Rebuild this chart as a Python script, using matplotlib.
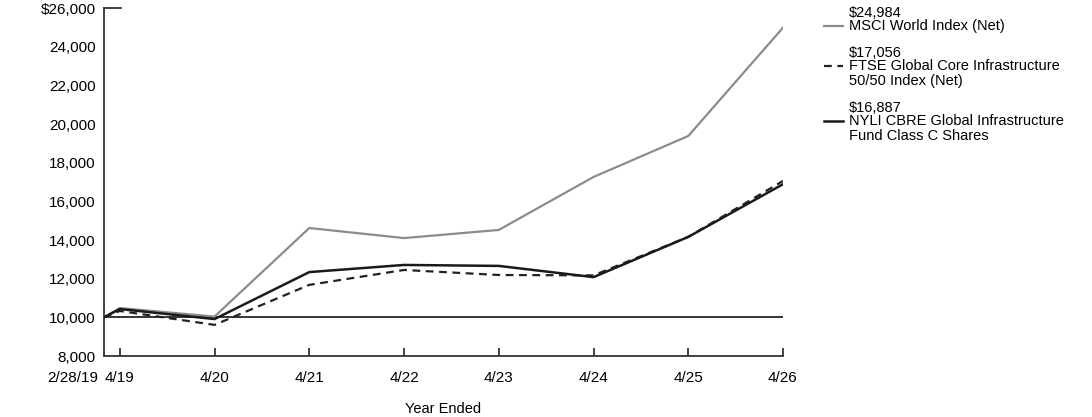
import matplotlib
matplotlib.use("Agg")
import matplotlib.pyplot as plt
import matplotlib.transforms as mtransforms

plt.rcParams['font.family'] = ['Liberation Sans', 'DejaVu Sans']

# Data (months since 2/28/19)
months = [0, 2, 14, 26, 38, 50, 62, 74, 86]
tick_labels = ['2/28/19', '4/19', '4/20', '4/21', '4/22', '4/23', '4/24', '4/25', '4/26']

msci = [10000, 10480, 10040, 14620, 14100, 14520, 17260, 19380, 24984]
ftse = [10000, 10330, 9610, 11680, 12450, 12190, 12170, 14160, 17056]
nyli = [10000, 10430, 9910, 12340, 12710, 12660, 12080, 14160, 16887]

series_names = ['MSCI World Index (Net)',
                'FTSE Global Core Infrastructure\n50/50 Index (Net)',
                'NYLI CBRE Global Infrastructure\nFund Class C Shares']
end_values = ['$24,984', '$17,056', '$16,887']

W, H = 1092, 417
fig = plt.figure(figsize=(W / 100, H / 100), dpi=100)
ax = fig.add_axes([104 / W, 1 - 356 / H, (783 - 104) / W, (356 - 8) / H])

# Reference line at 10,000
ax.axhline(10000, color='black', linewidth=1.1, zorder=1)

styles = [dict(color='#8c8c8c', linewidth=1.6, linestyle='-'),
          dict(color='#222222', linewidth=1.6, linestyle=(0, (3.5, 2.5))),
          dict(color='#1a1a1a', linewidth=1.8, linestyle='-')]

for vals, st, z in zip([msci, ftse, nyli], styles, [2, 3, 4]):
    ax.plot(months, vals, zorder=z, **st)

ax.set_xlim(0, 86)
ax.set_ylim(8000, 26000)
ax.set_xticks(months)
ax.set_xticklabels(tick_labels, fontsize=11)
ax.set_yticks(range(8000, 26001, 2000))
ax.set_yticklabels(['8,000', '10,000', '12,000', '14,000', '16,000', '18,000',
                    '20,000', '22,000', '24,000', '$26,000'], fontsize=11)

for s in ['top', 'right']:
    ax.spines[s].set_visible(False)
for s in ['left', 'bottom']:
    ax.spines[s].set_color('#333333')
    ax.spines[s].set_linewidth(1.3)

ax.tick_params(axis='y', length=0, pad=6)
ax.tick_params(axis='x', direction='in', length=6, width=1.3, color='#333333', pad=11)
ax.xaxis.get_major_ticks()[0].tick1line.set_visible(False)

# first x label sits left of the axis origin
first = ax.get_xticklabels()[0]
first.set_horizontalalignment('right')
first.set_transform(first.get_transform() +
                    mtransforms.ScaledTranslation(-6 / 100, 0, fig.dpi_scale_trans))

# short line at the top of the y axis
ax.axhline(26000, xmin=0, xmax=0.025, color='#333333', linewidth=1.3, clip_on=False)

ax.set_xlabel('Year Ended', fontsize=10.5, labelpad=12)

# Legend drawn as text blocks on the right
value_centers = [12.7, 52.7, 107.7]
for name, val, st, yc in zip(series_names, end_values, styles, value_centers):
    fig.text(849 / W, 1 - yc / H, val, fontsize=10.5, va='center', ha='left')
    y_first = yc + 13.3
    for i, ln in enumerate(name.split('\n')):
        fig.text(849 / W, 1 - (y_first + i * 15) / H, ln, fontsize=10.5,
                 va='center', ha='left')
    fig.add_artist(plt.Line2D([824 / W, 843 / W], [1 - y_first / H, 1 - y_first / H],
                              transform=fig.transFigure, **st))

fig.savefig('out.png', dpi=100)
